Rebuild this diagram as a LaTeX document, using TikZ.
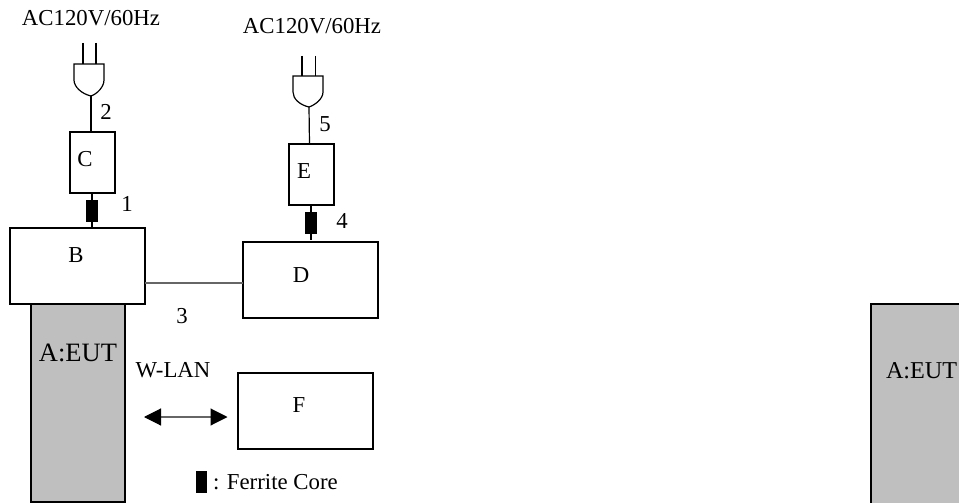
\documentclass[tikz,border=0pt]{standalone}
\usepackage{fontspec}
\setmainfont{Liberation Serif}
\usetikzlibrary{arrows.meta}
\begin{document}
\begin{tikzpicture}[x=1pt,y=-1pt,
  every node/.style={inner sep=0pt,outer sep=0pt},
  box/.style={draw=black,line width=1.1pt,minimum width=#1,rectangle},
  lbl/.style={font=\fontsize{22.8pt}{24pt}\selectfont,anchor=base},
  lblbig/.style={font=\fontsize{26.5pt}{28pt}\selectfont,anchor=base},
  lblside/.style={font=\fontsize{24.2pt}{26pt}\selectfont,anchor=base west},
  wire/.style={draw=black,line width=1.2pt},
  link/.style={draw=black!60,line width=1.1pt},
  core/.style={fill=black,minimum height=22pt,anchor=north west}]
\useasboundingbox (0,0) rectangle (959,503);
% grey EUT panels
\node[draw=black,line width=1.1pt,fill=black!25,minimum width=94pt,minimum height=198pt,anchor=north west] (a) at (31,304) {};
\fill[black!25] (871,304) rectangle (959,503);
\coordinate (rtl) at (871,304);
\coordinate (rtr) at (959,304);
\coordinate (rbl) at (871,503);
\draw[line width=1.1pt] (rbl) -- (rtl) -- (rtr);
% boxes
\node[box=135pt,minimum height=76pt,fill=white,anchor=north west] (b) at (10,228) {};
\node[box=45pt,minimum height=61pt,anchor=north west] (c) at (70,132) {};
\node[box=135pt,minimum height=76pt,anchor=north west] (d) at (243,242) {};
\node[box=45pt,minimum height=61pt,anchor=north west] (e) at (289,144) {};
\node[box=135pt,minimum height=76pt,anchor=north west] (f) at (238,373) {};
% ferrites
\node[core,minimum width=12pt] (fc1) at (86,200) {};
\node[core,minimum width=12pt] (fc2) at (305,211.5) {};
\node[core,minimum width=11pt] (fc3) at (196,470.5) {};
% plugs
\coordinate (p1) at (91,96);
\coordinate (p2) at (309,107);
\draw[wire] (74,64) -- (104,64) -- (104,80) .. controls (104,87) and (97,94) .. (p1) .. controls (82,94) and (74,87) .. (74,80) -- cycle;
\draw[wire] (83,43) -- (83,64) (96,43) -- (96,64);
\draw[wire] (293,76) -- (323,76) -- (323,92) .. controls (323,99) and (315,105) .. (p2) .. controls (300,105) and (293,99) .. (293,92) -- cycle;
\draw[wire] (302,56) -- (302,76) (315.5,56) -- (315.5,76);
% wires
\draw[wire] (p1) -- (91,132);
\draw[wire] (p2) -- (309.5,144);
\draw[wire] (92,193) -- (fc1.north);
\draw[wire] (fc1.south) -- (92,228);
\draw[wire] (311,205) -- (fc2.north);
\draw[wire] (fc2.south) -- (311,240);
\draw[link] (145,283) -- (243,283);
\coordinate (al) at (144,417);
\coordinate (ar) at (227.5,417);
\draw[link,{Triangle[length=17pt,width=17pt,color=black]}-{Triangle[length=17pt,width=17pt,color=black]}] (al) -- (ar);
% labels
\node[lbl] at (91,26) {AC120V/60Hz};
\node[lbl] at (312,34) {AC120V/60Hz};
\node[lbl] at (106,119) {2};
\node[lbl] at (325,131) {5};
\node[lbl] at (85,166) {C};
\node[lbl] at (304,178) {E};
\node[lbl] at (127,211) {1};
\node[lbl] at (342,228) {4};
\node[lbl] at (76,262) {B};
\node[lbl] at (301,282) {D};
\node[lbl] at (182,323) {3};
\node[lblbig] at (78,361) {A:EUT};
\node[lbl] at (173,377) {W-LAN};
\node[lbl] at (299,412) {F};
\node[lbl,anchor=base west] at (213,489) {: Ferrite Core};
\node[lblside] at (886,378) {A:EUT};
\end{tikzpicture}
\end{document}
